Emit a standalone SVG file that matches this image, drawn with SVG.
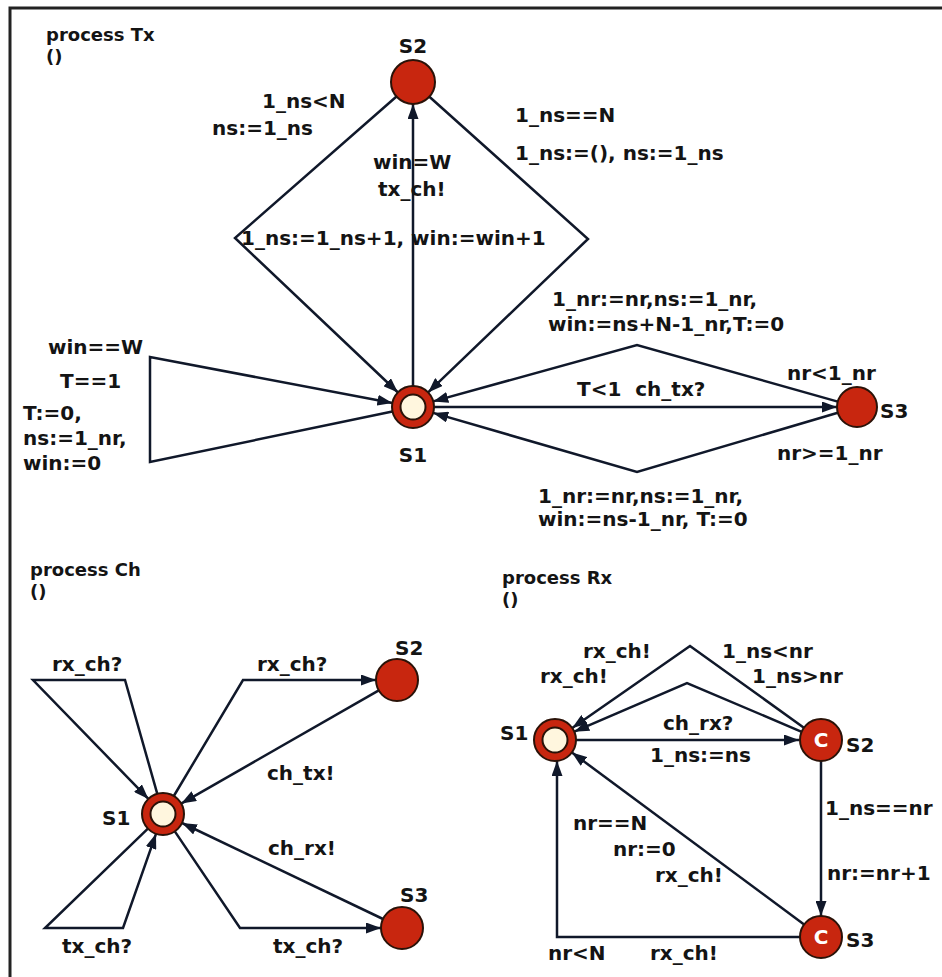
<svg xmlns="http://www.w3.org/2000/svg" width="942" height="977" viewBox="0 0 942 977">
<style>
.t{font-family:"DejaVu Sans","Liberation Sans",sans-serif;font-weight:bold;font-size:20px;fill:#141414}
.h{font-size:18px}
.m{text-anchor:middle}
.e{fill:none;stroke:#10182a;stroke-width:2.5;stroke-linejoin:miter}
.a{marker-end:url(#arr)}
.loc{fill:#c8260f;stroke:#2a1208;stroke-width:2}
.ini{fill:#fff6de;stroke:#2a1208;stroke-width:2}
.c{font-family:"DejaVu Sans",sans-serif;font-weight:bold;font-size:20px;fill:#ffffff;text-anchor:middle}
</style>
<defs>
<marker id="arr" markerUnits="userSpaceOnUse" markerWidth="16" markerHeight="11" refX="15" refY="5.5" orient="auto">
<path d="M0,0 L15,5.5 L0,11 z" fill="#10182a"/>
</marker>
</defs>
<rect width="942" height="977" fill="#ffffff"/>
<path d="M10,977 L10,8 L942,8" fill="none" stroke="#222" stroke-width="3"/>

<g id="connectors">
<!-- Tx -->
<path class="e a" d="M413,386 L413,104"/>
<path class="e a" d="M396.5,96.5 L235,238 L398,392.5"/>
<path class="e a" d="M429.4,96.7 L588,239 L428.1,392.4"/>
<path class="e a" d="M392.4,411.5 L150,462 L150,357 L392.4,403"/>
<path class="e a" d="M434,407 L837,407"/>
<path class="e a" d="M837.8,401.6 L637,345 L433.2,401.4"/>
<path class="e a" d="M837.8,412.7 L637,472 L433.2,412.9"/>
<!-- Ch -->
<path class="e a" d="M157.3,793.8 L125,680 L33,680 L148.4,798.9"/>
<path class="e a" d="M147.9,828.6 L45,928 L123,928 L156,833.8"/>
<path class="e a" d="M173.8,796 L243,680 L376,680"/>
<path class="e a" d="M378.8,690.4 L181.2,803.6"/>
<path class="e a" d="M383,919 L182,823"/>
<path class="e a" d="M174.8,831.4 L240,928 L381,928"/>
<!-- Rx -->
<path class="e a" d="M576,740 L799,740"/>
<path class="e a" d="M803.9,727.7 L690,646 L572.2,728"/>
<path class="e a" d="M801.7,731.8 L687,683 L574.3,731.7"/>
<path class="e a" d="M821,761 L821,916"/>
<path class="e a" d="M804.1,924.5 L571.9,752.5"/>
<path class="e a" d="M800,937 L557,937 L557,761"/>
</g>

<g id="tx-title">
<text class="t h" x="46" y="41">process Tx</text>
<text class="t h" x="46" y="63">()</text>
</g>
<g id="tx-S2">
<circle class="loc" cx="413" cy="82" r="22"/>
<text class="t m" x="413" y="53">S2</text>
</g>
<g id="tx-S1">
<circle class="loc" cx="413" cy="407" r="21"/>
<circle class="ini" cx="413" cy="407" r="12.5"/>
<text class="t m" x="413" y="462">S1</text>
</g>
<g id="tx-S3">
<circle class="loc" cx="857" cy="407" r="20"/>
<text class="t" x="880" y="418">S3</text>
</g>
<g id="tx-labels">
<text class="t" x="262" y="108">1_ns&lt;N</text>
<text class="t" x="212" y="135">ns:=1_ns</text>
<text class="t" x="373" y="169">win=W</text>
<text class="t" x="378" y="196">tx_ch!</text>
<text class="t" x="241" y="245">1_ns:=1_ns+1, win:=win+1</text>
<text class="t" x="515" y="122">1_ns==N</text>
<text class="t" x="515" y="160">1_ns:=(), ns:=1_ns</text>
<text class="t" x="48" y="354">win==W</text>
<text class="t" x="60" y="388">T==1</text>
<text class="t" x="23" y="420">T:=0,</text>
<text class="t" x="23" y="445">ns:=1_nr,</text>
<text class="t" x="23" y="470">win:=0</text>
<text class="t" x="552" y="306">1_nr:=nr,ns:=1_nr,</text>
<text class="t" x="548" y="331">win:=ns+N-1_nr,T:=0</text>
<text class="t" x="577" y="396" xml:space="preserve">T&lt;1  ch_tx?</text>
<text class="t" x="787" y="380">nr&lt;1_nr</text>
<text class="t" x="777" y="460">nr&gt;=1_nr</text>
<text class="t" x="538" y="503">1_nr:=nr,ns:=1_nr,</text>
<text class="t" x="538" y="526">win:=ns-1_nr, T:=0</text>
</g>

<g id="ch-title">
<text class="t h" x="30" y="576">process Ch</text>
<text class="t h" x="30" y="598">()</text>
</g>
<g id="ch-S1">
<circle class="loc" cx="163" cy="814" r="21"/>
<circle class="ini" cx="163" cy="814" r="12.5"/>
<text class="t" x="102" y="825">S1</text>
</g>
<g id="ch-S2">
<circle class="loc" cx="397" cy="680" r="21"/>
<text class="t" x="395" y="655">S2</text>
</g>
<g id="ch-S3">
<circle class="loc" cx="402" cy="928" r="21"/>
<text class="t" x="400" y="902">S3</text>
</g>
<g id="ch-labels">
<text class="t" x="52" y="671">rx_ch?</text>
<text class="t" x="257" y="671">rx_ch?</text>
<text class="t" x="267" y="780">ch_tx!</text>
<text class="t" x="268" y="855">ch_rx!</text>
<text class="t" x="62" y="953">tx_ch?</text>
<text class="t" x="273" y="953">tx_ch?</text>
</g>

<g id="rx-title">
<text class="t h" x="502" y="584">process Rx</text>
<text class="t h" x="502" y="606">()</text>
</g>
<g id="rx-S1">
<circle class="loc" cx="555" cy="740" r="21"/>
<circle class="ini" cx="555" cy="740" r="12.5"/>
<text class="t" x="500" y="740">S1</text>
</g>
<g id="rx-S2">
<circle class="loc" cx="821" cy="740" r="21"/>
<text class="c" x="821" y="747">C</text>
<text class="t" x="846" y="752">S2</text>
</g>
<g id="rx-S3">
<circle class="loc" cx="821" cy="937" r="21"/>
<text class="c" x="821" y="944">C</text>
<text class="t" x="846" y="947">S3</text>
</g>
<g id="rx-labels">
<text class="t" x="583" y="658">rx_ch!</text>
<text class="t" x="540" y="683">rx_ch!</text>
<text class="t" x="722" y="658">1_ns&lt;nr</text>
<text class="t" x="752" y="683">1_ns&gt;nr</text>
<text class="t" x="663" y="730">ch_rx?</text>
<text class="t" x="650" y="762">1_ns:=ns</text>
<text class="t" x="825" y="815">1_ns==nr</text>
<text class="t" x="827" y="880">nr:=nr+1</text>
<text class="t" x="573" y="830">nr==N</text>
<text class="t" x="613" y="856">nr:=0</text>
<text class="t" x="655" y="882">rx_ch!</text>
<text class="t" x="548" y="960">nr&lt;N</text>
<text class="t" x="650" y="960">rx_ch!</text>
</g>
</svg>
